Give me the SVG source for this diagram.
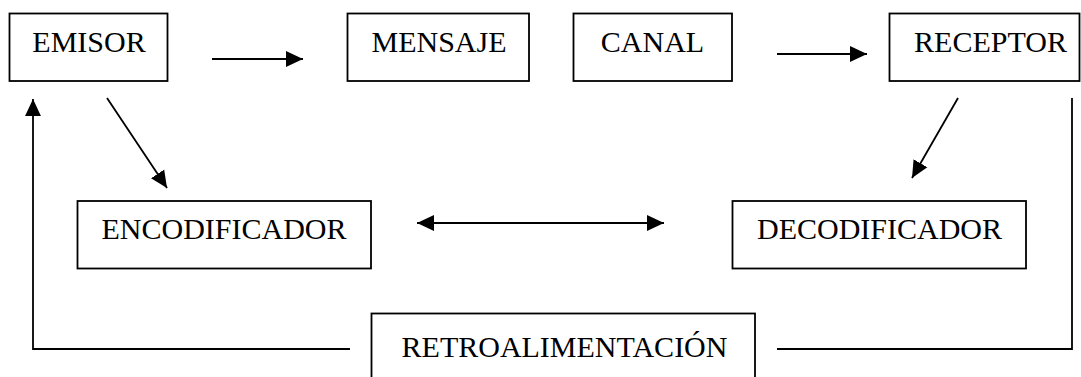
<svg xmlns="http://www.w3.org/2000/svg" width="1081" height="377" viewBox="0 0 1081 377">
<style>
.box{fill:#fff;stroke:#000;stroke-width:1.8}
.lbl{font-family:"Liberation Serif","Times New Roman",serif;font-size:30px;fill:#000;text-anchor:middle}
.ln{fill:none;stroke:#000;stroke-width:1.8}
</style>
<defs>
<marker id="ah" markerUnits="userSpaceOnUse" markerWidth="17" markerHeight="17" viewBox="0 0 15 14" refX="15" refY="7" orient="auto">
<path d="M0,0 L15,7 L0,14 Z" fill="#000"/>
</marker>
<marker id="ahs" markerUnits="userSpaceOnUse" markerWidth="17" markerHeight="17" viewBox="0 0 15 14" refX="15" refY="7" orient="auto-start-reverse">
<path d="M0,0 L15,7 L0,14 Z" fill="#000"/>
</marker>
</defs>
<g id="connectors">
<line class="ln" x1="212" y1="59" x2="303" y2="59" marker-end="url(#ah)"/>
<line class="ln" x1="777" y1="54" x2="867" y2="54" marker-end="url(#ah)"/>
<line class="ln" x1="107" y1="98" x2="167" y2="188" marker-end="url(#ah)"/>
<line class="ln" x1="958" y1="98" x2="912" y2="178" marker-end="url(#ah)"/>
<line class="ln" x1="417" y1="223" x2="664" y2="223" marker-start="url(#ahs)" marker-end="url(#ahs)"/>
<polyline class="ln" points="350,349 33,349 33,99" marker-end="url(#ah)"/>
<polyline class="ln" points="1072,98 1072,349 777,349"/>
</g>
<g id="emisor">
<rect class="box" x="9.5" y="13.5" width="158" height="67.5"/>
<text class="lbl" x="89" y="52">EMISOR</text>
</g>
<g id="mensaje">
<rect class="box" x="347.5" y="13.5" width="181.5" height="67.5"/>
<text class="lbl" x="439" y="52">MENSAJE</text>
</g>
<g id="canal">
<rect class="box" x="573.5" y="13.5" width="158.5" height="67.5"/>
<text class="lbl" x="652.5" y="52">CANAL</text>
</g>
<g id="receptor">
<rect class="box" x="889.5" y="13.5" width="190" height="67.5"/>
<text class="lbl" x="990.5" y="52">RECEPTOR</text>
</g>
<g id="encodificador">
<rect class="box" x="77.5" y="201" width="293.5" height="67.5"/>
<text class="lbl" x="224" y="239">ENCODIFICADOR</text>
</g>
<g id="decodificador">
<rect class="box" x="732.5" y="201" width="293.5" height="67.5"/>
<text class="lbl" x="879.5" y="239">DECODIFICADOR</text>
</g>
<g id="retroalimentacion">
<rect class="box" x="371.5" y="313.5" width="383.5" height="80"/>
<text class="lbl" x="564.5" y="357">RETROALIMENTACIÓN</text>
</g>
</svg>
